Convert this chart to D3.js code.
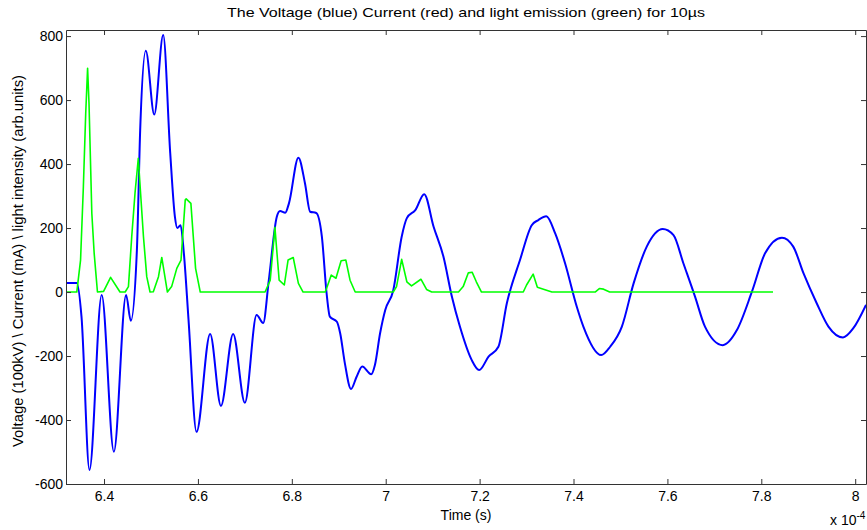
<!DOCTYPE html>
<html>
<head>
<meta charset="utf-8">
<script src="https://cdn.jsdelivr.net/npm/d3@7"></script>
<style>
  body { margin: 0; background: #fff; }
  svg text { font-family: "Liberation Sans", Arial, sans-serif; fill: #000; }
</style>
</head>
<body>
<svg id="chart"></svg>
<script>
const width = 867;
const height = 530;

// time in units of 1e-4 s
const voltageTime = [6.319, 6.342, 6.352, 6.369, 6.395, 6.421, 6.447, 6.457, 6.470, 6.477, 6.489, 6.507, 6.526,
  6.541, 6.551, 6.556, 6.563, 6.570, 6.580, 6.597, 6.626, 6.649, 6.675, 6.700, 6.725, 6.739, 6.751, 6.768,
  6.775, 6.786, 6.794, 6.814, 6.828, 6.839, 6.852, 6.864, 6.874, 6.881, 6.896, 6.903, 6.913, 6.926, 6.938,
  6.950, 6.969, 6.977, 6.988, 6.999, 7.016, 7.034, 7.045, 7.063, 7.082, 7.102, 7.123, 7.141, 7.158, 7.183,
  7.199, 7.219, 7.240, 7.258, 7.286, 7.311, 7.325, 7.342, 7.361, 7.382, 7.407, 7.421, 7.459, 7.478, 7.503,
  7.528, 7.556, 7.590, 7.613, 7.634, 7.659, 7.680, 7.718, 7.748, 7.780, 7.808, 7.844, 7.868, 7.890, 7.918,
  7.943, 7.974, 7.996, 8.023];
const voltage = [28, 28, -77, -556, -9, -499, -9, -90, 131, 506, 754, 555, 803,
  434, 235, 200, 209, 122, -87, -437, -131, -356, -131, -346, -72, -97, 37, 235,
  253, 248, 278, 420, 340, 251, 247, 173, -3, -77, -93, -129, -223, -303, -265,
  -233, -257, -228, -129, -56, 5, 173, 231, 256, 306, 204, 110, -15, -108, -212,
  -244, -202, -171, -35, 100, 209, 225, 237, 183, 90, -46, -108, -197, -171, -108,
  27, 142, 197, 178, 90, -15, -108, -166, -119, 1, 121, 170, 142, 58, -35,
  -108, -142, -113, -40];

const lightTime = [6.319, 6.342, 6.350, 6.356, 6.361, 6.365, 6.368, 6.374, 6.379, 6.386, 6.399, 6.414, 6.434,
  6.445, 6.452, 6.459, 6.466, 6.473, 6.476, 6.484, 6.491, 6.498, 6.505, 6.516, 6.523, 6.535, 6.544, 6.555,
  6.564, 6.573, 6.575, 6.585, 6.595, 6.605, 6.743, 6.754, 6.764, 6.773, 6.784, 6.792, 6.803, 6.814, 6.824,
  6.871, 6.874, 6.884, 6.894, 6.905, 6.915, 6.924, 6.935, 7.016, 7.023, 7.034, 7.045, 7.055, 7.075, 7.087,
  7.098, 7.155, 7.165, 7.176, 7.184, 7.193, 7.204, 7.293, 7.300, 7.314, 7.323, 7.336, 7.354, 7.446, 7.455,
  7.464, 7.477, 7.825];
const light = [0, 0, 100, 329, 559, 699, 590, 246, 121, 0, 2, 46, 0,
  0, 17, 173, 309, 418, 350, 173, 48, 0, 1, 48, 108, 0, 17, 74,
  100, 288, 291, 277, 74, 0, 0, 37, 202, 37, 22, 100, 108, 27, 0,
  0, 11, 53, 43, 98, 100, 37, 0, 0, 17, 102, 32, 19, 40, 8,
  0, 0, 17, 60, 62, 32, 0, 0, 22, 56, 15, 9, 0, 0, 11,
  9, 0, 0];

const xTicks = [6.4, 6.6, 6.8, 7, 7.2, 7.4, 7.6, 7.8, 8];
const yTicks = [-600, -400, -200, 0, 200, 400, 600, 800];

const margin = { top: 30, right: 1, bottom: 46, left: 66 };

const svg = d3.select("#chart")
    .attr("width", width)
    .attr("height", height);

const x = d3.scaleLinear()
    .domain([6.319, 8.023])
    .range([margin.left, width - margin.right]);

const y = d3.scaleLinear()
    .domain([-600, 819])
    .range([height - margin.bottom, margin.top]);

const x0 = margin.left, x1 = width - margin.right;
const y0 = height - margin.bottom, y1 = margin.top;

// curves
const blue = d3.line()
    .x((d, i) => x(voltageTime[i]))
    .y(d => y(d))
    .curve(d3.curveMonotoneX);

const green = d3.line()
    .x((d, i) => x(lightTime[i]))
    .y(d => y(d));

svg.append("defs").append("clipPath").attr("id", "clip")
  .append("rect").attr("x", x0).attr("y", y1).attr("width", x1 - x0).attr("height", y0 - y1);

const plot = svg.append("g").attr("clip-path", "url(#clip)");

plot.append("path")
    .attr("d", blue(voltage))
    .attr("fill", "none")
    .attr("stroke", "#0000ff")
    .attr("stroke-width", 2)
    .attr("stroke-linejoin", "round");

plot.append("path")
    .attr("d", green(light))
    .attr("fill", "none")
    .attr("stroke", "#00ff00")
    .attr("stroke-width", 1.6)
    .attr("stroke-linejoin", "round");

// axes, box with inward ticks
const fmt = d => String(d);

const gx = svg.append("g")
    .attr("transform", `translate(0,${y0})`)
    .call(d3.axisBottom(x).tickValues(xTicks).tickFormat(fmt).tickSizeInner(-5).tickSizeOuter(0).tickPadding(7));

const gxt = svg.append("g")
    .attr("transform", `translate(0,${y1})`)
    .call(d3.axisTop(x).tickValues(xTicks).tickFormat("").tickSizeInner(-5).tickSizeOuter(0));

const gy = svg.append("g")
    .attr("transform", `translate(${x0},0)`)
    .call(d3.axisLeft(y).tickValues(yTicks).tickFormat(fmt).tickSizeInner(-5).tickSizeOuter(0).tickPadding(3));

const gyr = svg.append("g")
    .attr("transform", `translate(${x1},0)`)
    .call(d3.axisRight(y).tickValues(yTicks).tickFormat("").tickSizeInner(-5).tickSizeOuter(0));

[gx, gxt, gy, gyr].forEach(g => {
  g.select(".domain").attr("stroke", "#333");
  g.selectAll(".tick line").attr("stroke", "#333");
  g.selectAll("text").attr("font-size", 14).attr("font-family", null);
});

svg.append("text")
    .attr("x", (x0 + x1) / 2)
    .attr("y", 17)
    .attr("text-anchor", "middle")
    .attr("font-size", 13)
    .attr("textLength", 478)
    .attr("lengthAdjust", "spacingAndGlyphs")
    .text("The Voltage (blue) Current (red) and light emission (green) for 10µs");

svg.append("text")
    .attr("x", (x0 + x1) / 2)
    .attr("y", 520)
    .attr("text-anchor", "middle")
    .attr("font-size", 14)
    .text("Time (s)");

svg.append("text")
    .attr("transform", `translate(23,${(y0 + y1) / 2 + 4}) rotate(-90)`)
    .attr("text-anchor", "middle")
    .attr("font-size", 14)
    .attr("textLength", 372)
    .attr("lengthAdjust", "spacingAndGlyphs")
    .text("Voltage (100kV) \\ Current (mA) \\ light intensity (arb.units)");

const mult = svg.append("text")
    .attr("x", 830)
    .attr("y", 525)
    .attr("font-size", 14);
mult.append("tspan").text("x 10");
mult.append("tspan").attr("font-size", 10).attr("dy", -6).text("-4");
</script>
</body>
</html>
